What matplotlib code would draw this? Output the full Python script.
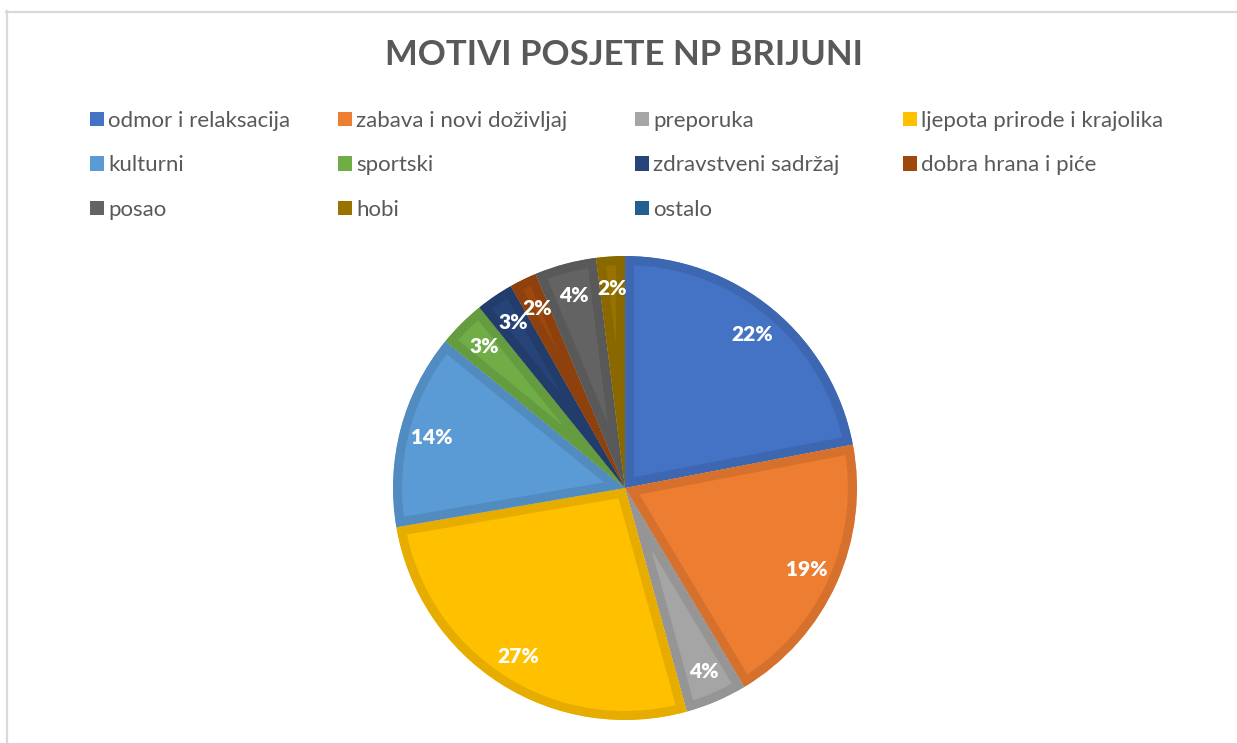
import matplotlib
matplotlib.use("Agg")
import matplotlib.pyplot as plt
from matplotlib.patches import Patch
from matplotlib.lines import Line2D
import matplotlib.colors as mcolors

categories = ["odmor i relaksacija", "zabava i novi doživljaj", "preporuka",
              "ljepota prirode i krajolika", "kulturni", "sportski",
              "zdravstveni sadržaj", "dobra hrana i piće", "posao", "hobi", "ostalo"]
values = [22.0, 19.4, 4.3, 26.6, 13.6, 3.3, 2.6, 1.9, 4.3, 2.0, 0.0]
colors = ["#4472C4", "#ED7D31", "#A5A5A5", "#FFC000", "#5B9BD5", "#70AD47",
          "#264478", "#9E480E", "#636363", "#997300", "#255E91"]
title = "MOTIVI POSJETE NP BRIJUNI"

W, H = 1237, 743
fig = plt.figure(figsize=(W / 100, H / 100), dpi=100)
fig.patch.set_facecolor("white")

FONT = ["Lato", "DejaVu Sans"]
TXT = "#595959"

# frame lines
fig.add_artist(Line2D([6.5 / W, 6.5 / W], [0, 1 - 11 / H], transform=fig.transFigure,
                      color="#D9D9D9", lw=1.6))
fig.add_artist(Line2D([6 / W, 1], [1 - 11.5 / H, 1 - 11.5 / H], transform=fig.transFigure,
                      color="#D9D9D9", lw=1.6))

cx, cy, R = 625, 488, 232
ax = fig.add_axes([(cx - R) / W, (H - cy - R) / H, 2 * R / W, 2 * R / H])


def darker(c, f=0.9):
    r, g, b = mcolors.to_rgb(c)
    return (r * f, g * f, b * f)


wedges, texts, autotexts = ax.pie(
    values, colors=colors, startangle=90, counterclock=False, radius=1,
    autopct=lambda p: f"{p:.0f}%" if p > 0.05 else "", pctdistance=0.86,
    textprops=dict(color="white", fontsize=15, fontweight="heavy", family=FONT),
)
for w, c in zip(wedges, colors):
    w.set_edgecolor(darker(c))
    w.set_linewidth(13)
    w.set_joinstyle("round")
    w.set_clip_path(w)
    w.set_clip_on(True)
ax.set_xlim(-1, 1)
ax.set_ylim(-1, 1)
ax.set_aspect("equal")
ax.axis("off")

fig.text(624 / W, 1 - 55 / H, title, ha="center", va="center", fontsize=25,
         fontweight="bold", color=TXT, family=FONT)

# legend: row-major layout in 4 columns
col_x = [90, 338, 635, 903]
ncols = 4
for ci, x in enumerate(col_x):
    idx = list(range(ci, len(categories), ncols))
    handles = [Patch(facecolor=colors[i], edgecolor="none") for i in idx]
    labels = [categories[i] for i in idx]
    leg = fig.legend(handles, labels, loc="upper left",
                     bbox_to_anchor=(x / W, 1 - 111 / H), bbox_transform=fig.transFigure,
                     frameon=False, borderpad=0, borderaxespad=0,
                     handlelength=0.63, handleheight=0.63, handletextpad=0.2,
                     labelspacing=1.1, prop=dict(family=FONT, size=16))
    for t in leg.get_texts():
        t.set_color(TXT)

fig.savefig("out.png", dpi=100, facecolor="white")
